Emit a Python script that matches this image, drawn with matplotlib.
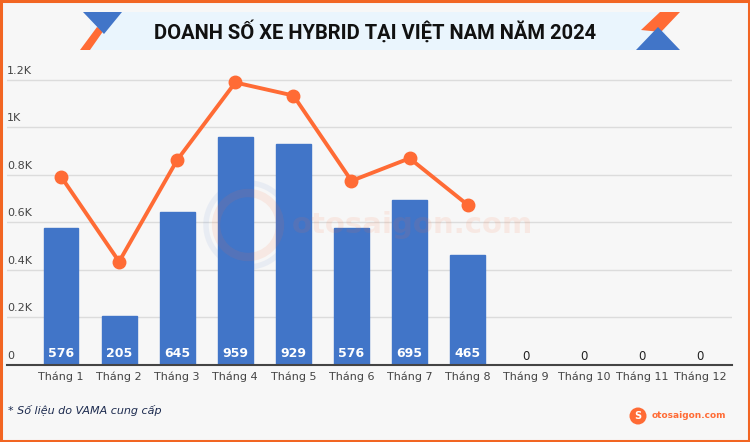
import matplotlib.pyplot as plt
from matplotlib.patches import Polygon, Rectangle, Ellipse

months = ['Tháng %d' % i for i in range(1, 13)]
hybrid_sales = [576, 205, 645, 959, 929, 576, 695, 465, 0, 0, 0, 0]
line_values = [793, 435, 863, 1189, 1134, 775, 870, 674]
y_ticks = [0, 200, 400, 600, 800, 1000, 1200]
y_tick_labels = ['0', '0.2K', '0.4K', '0.6K', '0.8K', '1K', '1.2K']

BLUE = '#4175c8'
ORANGE = '#ff6b35'
BG = '#f7f7f7'

fig = plt.figure(figsize=(7.5, 4.42), dpi=100, facecolor=BG)

def px(x, y):
    return (x / 750, 1 - y / 442)

def circle(x, y, r, **kw):
    return Ellipse(px(x, y), 2 * r / 750, 2 * r / 442, transform=fig.transFigure, **kw)

# khung vien cam
fig.patches.append(Rectangle((0.0015, 0.002), 0.997, 0.996, transform=fig.transFigure,
                             fill=False, edgecolor='#f26522', linewidth=2.2))

# banner tieu de
fig.patches.append(Rectangle(px(90, 50), 575 / 750, 38 / 442,
                             transform=fig.transFigure, facecolor='#eaf5fd', edgecolor='none'))
fig.patches.append(Polygon([px(80, 50), px(90, 50), px(104, 30), px(97, 27)], closed=True,
                           transform=fig.transFigure, facecolor=ORANGE, edgecolor='none'))
fig.patches.append(Polygon([px(83, 12), px(122, 12), px(104, 34)], closed=True,
                           transform=fig.transFigure, facecolor=BLUE, edgecolor='none'))
fig.patches.append(Polygon([px(641, 30), px(660, 12), px(680, 12), px(661, 32)], closed=True,
                           transform=fig.transFigure, facecolor=ORANGE, edgecolor='none'))
fig.patches.append(Polygon([px(636, 50), px(680, 50), px(658, 27)], closed=True,
                           transform=fig.transFigure, facecolor=BLUE, edgecolor='none'))
fig.text(0.5, 1 - 31 / 442, 'DOANH SỐ XE HYBRID TẠI VIỆT NAM NĂM 2024',
         ha='center', va='center', fontsize=14.5, fontweight='bold', color='#111111',
         family=['Liberation Sans Narrow', 'Roboto', 'DejaVu Sans'])

ax = fig.add_axes([7 / 750, 1 - 365 / 442, 725 / 750, 297 / 442])
ax.set_facecolor(BG)
x = list(range(len(months)))

ax.bar(x, hybrid_sales, width=0.6, color=BLUE, edgecolor=BLUE, linewidth=1, zorder=2)
ax.plot(x[:len(line_values)], line_values, color=ORANGE, linewidth=2.8, marker='o',
        markersize=9, zorder=4)

for i, v in enumerate(hybrid_sales):
    if v > 0:
        ax.text(i, 47, str(v), ha='center', va='center', color='white', fontsize=9,
                fontweight='bold', zorder=5)
    else:
        ax.text(i, 36, str(v), ha='center', va='center', color='#222222', fontsize=8.5, zorder=5)

for t, lab in zip(y_ticks, y_tick_labels):
    if t > 0:
        ax.axhline(t, color='#dcdcdc', linewidth=1, zorder=1)
    ax.text(-0.93, t + 18, lab, ha='left', va='bottom', fontsize=8, color='#444444')

ax.set_xlim(-0.93, 11.55)
ax.set_ylim(0, 1250)
ax.set_xticks(x)
ax.set_xticklabels(months, fontsize=8, color='#444444')
ax.tick_params(axis='x', length=0, pad=5)
ax.set_yticks([])
for s in ['top', 'right', 'left']:
    ax.spines[s].set_visible(False)
ax.spines['bottom'].set_color('#444444')
ax.spines['bottom'].set_linewidth(1.5)

# watermark
fig.patches.append(circle(248, 225, 32, fill=False, edgecolor=ORANGE, linewidth=6, alpha=0.1))
fig.patches.append(circle(248, 225, 42, fill=False, edgecolor=BLUE, linewidth=4, alpha=0.08))
fig.text(px(292, 225)[0], px(292, 225)[1], 'otosaigon.com', ha='left', va='center',
         fontsize=21, fontweight='bold', color=ORANGE, alpha=0.1)

fig.text(8 / 750, 1 - 411 / 442, '* Số liệu do VAMA cung cấp', ha='left', va='center',
         fontsize=8, style='italic', color='#1d2b4f')
fig.patches.append(circle(638, 416, 8.5, facecolor=ORANGE, edgecolor='none'))
fig.text(638 / 750, 1 - 416 / 442, 'S', ha='center', va='center', fontsize=7,
         fontweight='bold', color='white')
fig.text(652 / 750, 1 - 416 / 442, 'otosaigon.com', ha='left', va='center', fontsize=6.5,
         fontweight='bold', color=ORANGE)

fig.savefig('out.png', dpi=100, facecolor=BG)
